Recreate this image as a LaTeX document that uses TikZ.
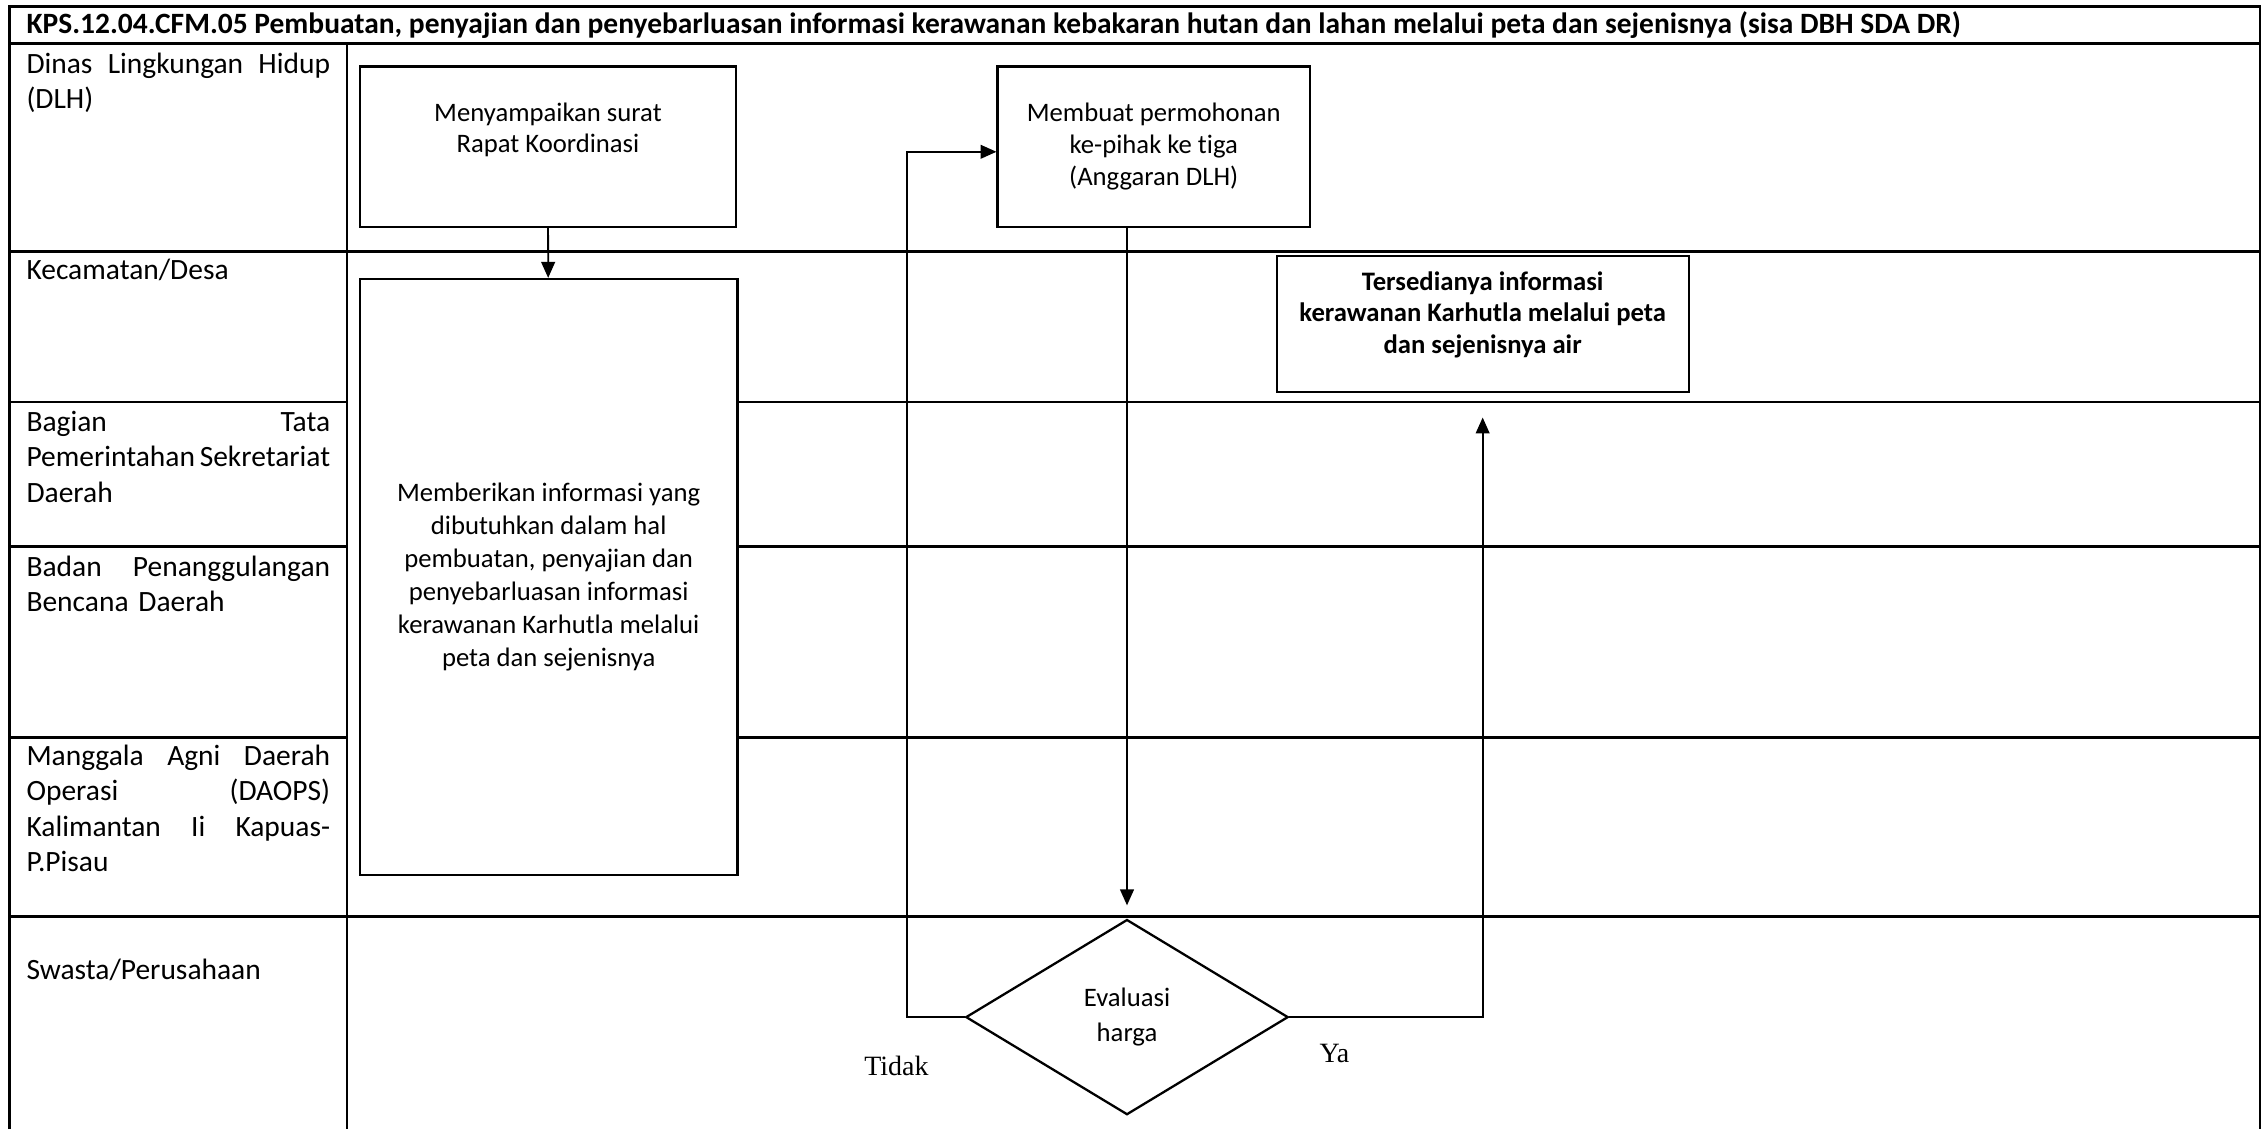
\documentclass[tikz,border=0pt]{standalone}
\usepackage{fontspec}
\setmainfont{Carlito}[Ligatures=NoCommon]
\newfontfamily\answerfont{Liberation Serif}
\usetikzlibrary{positioning,arrows.meta,shapes.geometric}

\begin{document}
\begin{tikzpicture}[
  x=0.2mm, y=-0.2mm,
  grid/.style={line width=1pt},
  lane/.style={anchor=north west, inner sep=0pt, text width=42mm, align=left,
               font=\fontsize{11.6}{13.95}\selectfont},
  proc/.style={rectangle, draw, line width=0.9pt, fill=white, align=center,
               inner sep=2pt, font=\fontsize{10.5}{12.5}\selectfont},
  decision/.style={diamond, draw, line width=0.9pt, fill=white, align=center,
                   inner sep=0pt, minimum width=44.6mm, minimum height=27mm,
                   font=\fontsize{10.5}{14}\selectfont},
  flow/.style={-{Triangle[length=2.2mm, width=1.9mm]}, line width=0.7pt},
  answer/.style={inner sep=0pt, font=\answerfont\fontsize{11}{13}\selectfont}
]
\useasboundingbox (0,0) rectangle (1568,781);

% table frame and swimlanes
\draw[grid] (6.5,781) -- (6.5,4.6) -- (1563,4.6) -- (1563,781);
\draw[grid] (6.5,30) -- (1563,30);
\draw[grid] (240,30) -- (240,781);
\draw[grid] (6.5,174) -- (1563,174);
\draw[grid] (6.5,634) -- (1563,634);
\foreach \y in {278,378,510} {
  \draw[grid] (6.5,\y) -- (240,\y);
  \draw[grid] (510,\y) -- (1563,\y);
}

\node[anchor=west, inner sep=0pt, font=\bfseries\fontsize{11.6}{13}\selectfont] (title) at (18,17.5)
  {KPS.12.04.CFM.05 Pembuatan, penyajian dan penyebarluasan informasi kerawanan kebakaran hutan dan lahan melalui peta dan sejenisnya (sisa DBH SDA DR)};

% lane names
\node[lane] (dlh) at (18,36) {Dinas\hfill Lingkungan\hfill Hidup\\(DLH)};
\node[lane] (kec) at (18,179) {Kecamatan/Desa};
\node[lane] (tapem) at (18,284) {Bagian\hfill Tata\\Pemerintahan\hfill Sekretariat\\Daerah};
\node[lane] (bpbd) at (18,384) {Badan\hfill Penanggulangan\\Bencana Daerah};
\node[lane] (daops) at (18,515) {Manggala\hfill Agni\hfill Daerah\\Operasi\hfill (DAOPS)\\Kalimantan\hfill Ii\hfill Kapuas-\\P.Pisau};
\node[lane] (swasta) at (18,663) {Swasta/Perusahaan};

% steps
\node[proc, minimum width=52mm, minimum height=22.2mm] (rapat) at (379,101.5)
  {Menyampaikan surat\\Rapat Koordinasi\rule[-15pt]{0pt}{0pt}};
\node[proc, minimum width=52.2mm, minimum height=82.4mm, font=\fontsize{10.5}{13}\selectfont] (info) at (379.5,399)
  {Memberikan informasi yang\\dibutuhkan dalam hal\\pembuatan, penyajian dan\\penyebarluasan informasi\\kerawanan Karhutla melalui\\peta dan sejenisnya};
\node[proc, minimum width=43.2mm, minimum height=22.2mm] (mohon) at (798,101.5)
  {Membuat permohonan\\ke-pihak ke tiga\\(Anggaran DLH)};
\node[decision] (eval) at (779.5,703.5) {Evaluasi\\harga};
\node[proc, minimum width=57mm, minimum height=18.8mm, font=\bfseries\fontsize{10.5}{12.5}\selectfont] (hasil) at (1025.5,224)
  {Tersedianya informasi\\kerawanan Karhutla melalui peta\\dan sejenisnya air\rule[-9pt]{0pt}{0pt}};

\node[answer] (tidak) at (620,737) {Tidak};
\node[answer] (ya) at (923,729) {Ya};

% connectors
\draw[flow] (rapat) -- (info);
\draw[flow, shorten >=1.8mm] (mohon.south -| eval.north) -- (eval.north);
\draw[flow] (eval.west) -- ++(-40,0) |- ([yshift=-0.7mm]mohon.west);
\draw[flow, shorten >=3.4mm] (eval.east) -| (hasil.south);
\end{tikzpicture}
\end{document}
